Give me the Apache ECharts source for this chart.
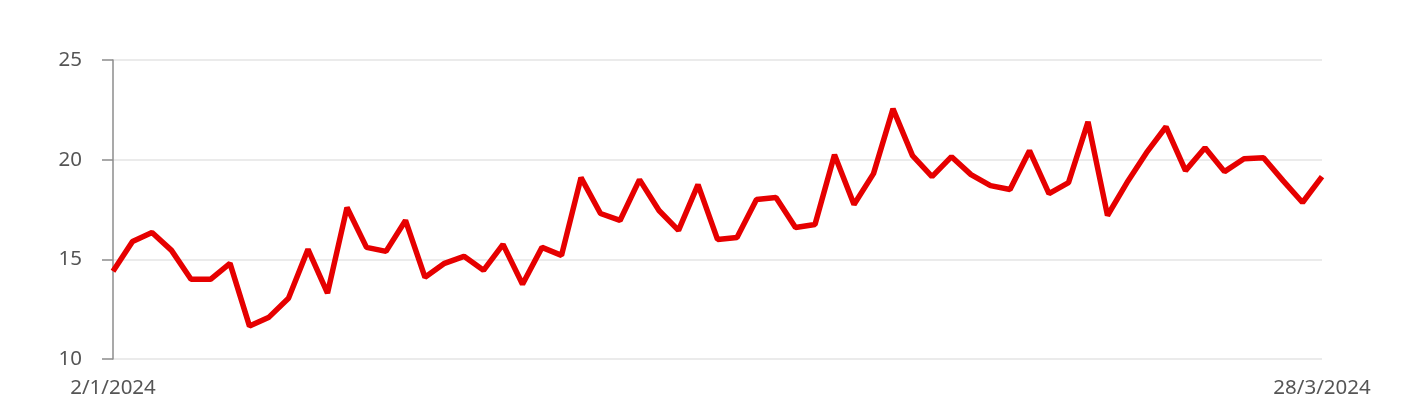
<!DOCTYPE html>
<html>
<head>
<meta charset="utf-8">
<script src="https://cdn.jsdelivr.net/npm/echarts@6/dist/echarts.min.js"></script>
<style>
html,body{margin:0;padding:0;background:#fff;}
#chart{width:1402px;height:408px;}
</style>
</head>
<body>
<div id="chart"></div>
<script>
const categories = [
  "2/1/2024","3/1/2024","4/1/2024","5/1/2024",
  "8/1/2024","9/1/2024","10/1/2024","11/1/2024","12/1/2024",
  "15/1/2024","16/1/2024","17/1/2024","18/1/2024","19/1/2024",
  "22/1/2024","23/1/2024","24/1/2024","25/1/2024","26/1/2024",
  "29/1/2024","30/1/2024","31/1/2024",
  "1/2/2024","2/2/2024",
  "5/2/2024","6/2/2024","7/2/2024","8/2/2024","9/2/2024",
  "12/2/2024","13/2/2024","14/2/2024","15/2/2024","16/2/2024",
  "19/2/2024","20/2/2024","21/2/2024","22/2/2024","23/2/2024",
  "26/2/2024","27/2/2024","28/2/2024","29/2/2024",
  "1/3/2024",
  "4/3/2024","5/3/2024","6/3/2024","7/3/2024","8/3/2024",
  "11/3/2024","12/3/2024","13/3/2024","14/3/2024","15/3/2024",
  "18/3/2024","19/3/2024","20/3/2024","21/3/2024","22/3/2024",
  "25/3/2024","26/3/2024","27/3/2024","28/3/2024"
];
const values = [
  14.4, 15.9, 16.35, 15.45, 14.0, 14.0, 14.8, 11.65, 12.1, 13.05,
  15.5, 13.3, 17.6, 15.6, 15.4, 16.95, 14.1, 14.8, 15.15, 14.45,
  15.75, 13.75, 15.6, 15.2, 19.1, 17.3, 16.95, 19.0, 17.45, 16.45,
  18.75, 16.0, 16.1, 18.0, 18.1, 16.6, 16.75, 20.25, 17.75, 19.3,
  22.55, 20.2, 19.15, 20.15, 19.25, 18.7, 18.5, 20.45, 18.3, 18.85,
  21.9, 17.2, 18.85, 20.35, 21.65, 19.45, 20.6, 19.4, 20.05, 20.1,
  18.95, 17.85, 19.15
];
const yMin = 10, yMax = 25, yStep = 5;

const chart = echarts.init(document.getElementById('chart'));
const lastIdx = categories.length - 1;
chart.setOption({
  animation: false,
  grid: { left: 113, right: 80, top: 60, bottom: 49, containLabel: false },
  xAxis: {
    type: 'category',
    data: categories,
    boundaryGap: false,
    axisLine: { show: false },
    axisTick: { show: false },
    splitLine: { show: false },
    axisLabel: {
      interval: function (idx) { return idx === 0 || idx === lastIdx; },
      color: '#555',
      fontSize: 20.5,
      fontFamily: 'Noto Sans',
      margin: 19
    }
  },
  yAxis: {
    type: 'value',
    min: yMin, max: yMax, interval: yStep,
    axisLine: { show: true, lineStyle: { color: '#8c8c8c', width: 1.5 } },
    axisTick: { show: true, length: 11, lineStyle: { color: '#8c8c8c', width: 1.5 } },
    axisLabel: { color: '#555', fontSize: 20.5, fontFamily: 'Noto Sans', margin: 31 },
    splitLine: { show: true, lineStyle: { color: '#e4e4e4', width: 1.5 } }
  },
  series: [{
    type: 'line',
    data: values,
    symbol: 'none',
    lineStyle: { color: '#e60000', width: 5.5 },
    itemStyle: { color: '#e60000' }
  }]
});
</script>
</body>
</html>
